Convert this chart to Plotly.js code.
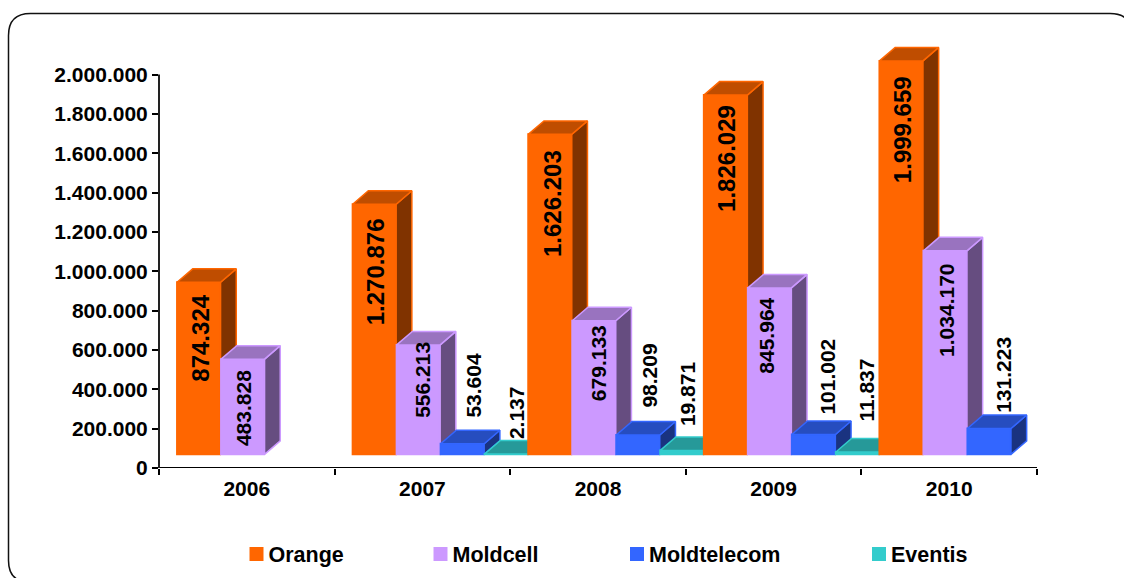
<!DOCTYPE html>
<html><head><meta charset="utf-8">
<script src="https://cdn.plot.ly/plotly-3.0.1.min.js"></script>
<style>html,body{margin:0;padding:0;background:#fff}#c{width:1124px;height:578px}</style>
</head><body><div id="c"></div>
<script>
const years = ['2006','2007','2008','2009','2010'];
const seriesNames = ['Orange','Moldcell','Moldtelecom','Eventis'];
const orange = [874324,1270876,1626203,1826029,1999659];
const moldcell = [483828,556213,679133,845964,1034170];
const moldtelecom = [null,53604,98209,101002,131223];
const eventis = [null,2137,19871,11837,null];
const seriesValues = [orange,moldcell,moldtelecom,eventis];

const frontColors = ['#FF6600','#CC99FF','#3366FF','#33CCCC'];
const topColors = ['#BF4D00','#9973BF','#264DBF','#269999'];
const sideColors = ['#803300','#664D80','#1A3380','#1A6666'];

// label centres, in screen pixels (per series, then year)
const labelX = [[201,375,552.7,727,902.7],[243,421.7,598,767,946.7],[null,474,650,828,1002.7],[null,516,687,867,null]];
const labelY = [[339,272.5,203.5,159,129.5],[408.5,380.5,363.5,336,310.5],[null,386,376,377,375.5],[null,413.5,394.5,391,null]];
const labelSize = [24,21,21,21];
const legendX = [228.5,412.5,609,851];

const W=1124,H=578,L=159,R=1037,T2M=74.5,B=468.5;
const yMax=2150000;
const catW=(R-L)/5, unit=2000000/(B-T2M), T=B-yMax/unit;
const xOf=p=>(p-L)/catW-0.5, yOf=p=>(B-p)*unit;
const floor=yOf(454.8), barW=43/catW, startOff=(-0.4)+0.5/catW, step=44/catW, dX=15.7/catW, dY=13.5*unit;
const px=v=>(v-L)/(R-L), py=v=>(B-v)/(B-T);
const fmt=v=>String(v).replace(/\B(?=(\d{3})+(?!\d))/g,'.');

const traces=[],annotations=[];
const used={};
let z=0;
years.forEach((yr,c)=>{
  seriesValues.forEach((vals,s)=>{
    const v=vals[c];
    if(v===null) return;
    const off=startOff+s*step, x0=c+off, x1=x0+barW, top=floor+v;
    const xr=x1+0.5/catW;
    traces.push({type:'scatter',mode:'lines',fill:'toself',zorder:z,hoverinfo:'skip',showlegend:false,
      x:[xr,xr,xr+dX,xr+dX,xr],y:[floor,top,top+dY,floor+dY,floor],
      fillcolor:sideColors[s],line:{color:frontColors[s],width:1.5}});
    traces.push({type:'scatter',mode:'lines',fill:'toself',zorder:z,hoverinfo:'skip',showlegend:false,
      x:[x0,xr,xr+dX,x0+dX,x0],y:[top,top,top+dY,top+dY,top],
      fillcolor:topColors[s],line:{color:frontColors[s],width:1.5}});
    const first=!used[s]; used[s]=true;
    traces.push({type:'bar',zorder:z,name:seriesNames[s],legend:s?('legend'+(s+1)):'legend',showlegend:first,
      x:[c],y:[v],base:[floor],width:[barW],offset:[off],
      marker:{color:frontColors[s],line:{color:frontColors[s],width:2}}});
    annotations.push({xref:'x',yref:'y',x:xOf(labelX[s][c]),y:yOf(labelY[s][c]),text:fmt(v),showarrow:false,
      textangle:-90,xanchor:'center',yanchor:'middle',
      font:{family:'Liberation Sans',size:labelSize[s],color:'#000',weight:700}});
    z++;
  });
});

const fx0=8.5,fy0=13.5,fx1=1132,fy1=583,r=22;
const P=(a,b)=>px(a)+','+py(b);
const frame='M'+P(fx0+r,fy0)+' L'+P(fx1-r,fy0)+' Q'+P(fx1,fy0)+' '+P(fx1,fy0+r)+' L'+P(fx1,fy1-r)+' Q'+P(fx1,fy1)+' '+P(fx1-r,fy1)
  +' L'+P(fx0+r,fy1)+' Q'+P(fx0,fy1)+' '+P(fx0,fy1-r)+' L'+P(fx0,fy0+r)+' Q'+P(fx0,fy0)+' '+P(fx0+r,fy0)+' Z';

const lg=i=>({xref:'container',yref:'container',x:legendX[i]/W,y:1-554/H,xanchor:'left',yanchor:'middle',orientation:'h',bgcolor:'rgba(0,0,0,0)',
  font:{family:'Liberation Sans',size:21.5,color:'#000',weight:700}});
const axFont={family:'Liberation Sans',size:21,color:'#000',weight:700};
const layout={width:W,height:H,margin:{l:L,r:W-R,t:T,b:H-B,pad:0},paper_bgcolor:'#fff',plot_bgcolor:'#fff',
  barmode:'overlay',separators:',.',
  xaxis:{type:'linear',range:[-0.5,4.5],tickmode:'array',tickvals:[0,1,2,3,4],ticktext:years,ticks:'',tickfont:axFont,
    showgrid:false,zeroline:false,showline:false,ticklabelstandoff:6,
    minor:{tickmode:'array',tickvals:[-0.5,0.5,1.5,2.5,3.5,4.5],ticks:'outside',ticklen:6,tickwidth:1.5,tickcolor:'#000',showgrid:false}},
  yaxis:{range:[0,yMax],tickmode:'linear',tick0:0,dtick:200000,tickformat:',d',ticks:'outside',ticklen:6,tickwidth:1.5,tickcolor:'#000',tickfont:axFont,
    showgrid:false,zeroline:false,showline:false},
  legend:lg(0),legend2:lg(1),legend3:lg(2),legend4:lg(3),
  annotations:annotations,
  shapes:[
    {type:'path',xref:'paper',yref:'paper',path:frame,line:{color:'#111',width:1.5},fillcolor:'rgba(0,0,0,0)',layer:'below'},
    {type:'line',xref:'paper',yref:'y',x0:0,x1:1,y0:0,y1:0,line:{color:'#000',width:2},layer:'below'},
    {type:'line',xref:'paper',yref:'y',x0:0,x1:0,y0:0,y1:2000000,line:{color:'#222',width:2},layer:'below'}
  ]
};
Plotly.newPlot('c',traces,layout,{displayModeBar:false,responsive:false}).then(gd=>{
  // legend.itemwidth cannot go under 30, so close the swatch-to-text gap here
  gd.querySelectorAll('.legendsymbols').forEach(n=>n.setAttribute('transform','translate(8,0)'));
});
</script></body></html>
